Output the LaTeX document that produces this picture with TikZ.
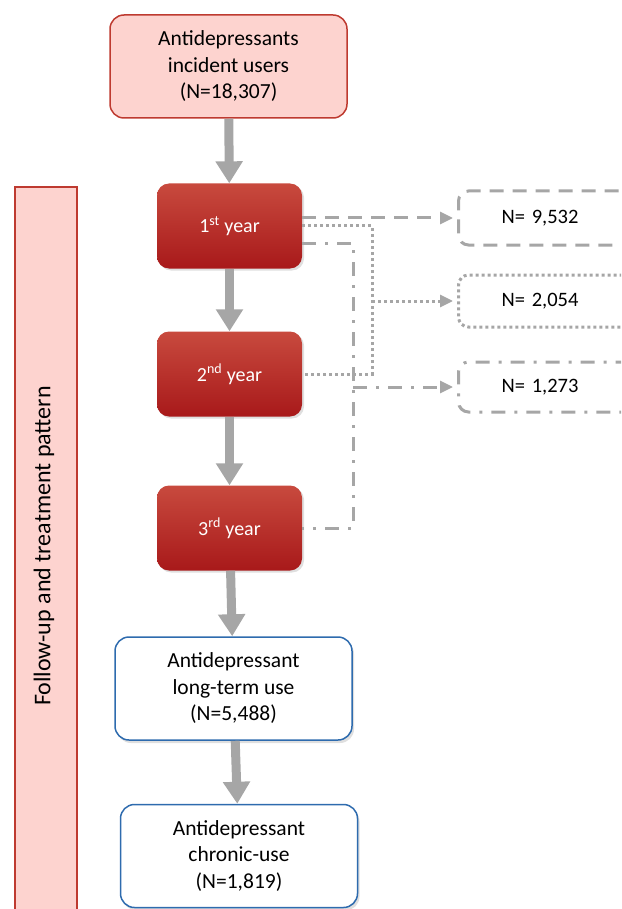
\documentclass[tikz,border=0pt]{standalone}
\usepackage{fontspec}
\setmainfont{Carlito}
\usetikzlibrary{arrows.meta,shadows}

\definecolor{pinkfill}{HTML}{FDD3CF}
\definecolor{redline}{HTML}{BE3A30}
\definecolor{yeartop}{HTML}{C84A3E}
\definecolor{yearbot}{HTML}{A8191A}
\definecolor{blueline}{HTML}{2E6BAE}
\definecolor{linkgray}{HTML}{A6A6A6}

\tikzset{
  startbox/.style={draw=redline, line width=1.5pt, fill=pinkfill, rounded corners=14pt,
    minimum width=237pt, minimum height=103pt, align=center,
    font=\fontsize{21.5}{26.5}\selectfont},
  yearbox/.style={rounded corners=12pt, top color=yeartop, bottom color=yearbot,
    minimum width=145pt, minimum height=85pt, text=white,
    font=\fontsize{20}{22}\selectfont,
    drop shadow={opacity=0.25, shadow xshift=2pt, shadow yshift=-2pt}},
  usebox/.style={draw=blueline, line width=1.5pt, fill=white, rounded corners=14pt,
    minimum width=237pt, minimum height=103pt, align=center,
    font=\fontsize{21.5}{26.5}\selectfont,
    drop shadow={opacity=0.25, shadow xshift=2pt, shadow yshift=-3pt}},
  outbox/.style={draw=linkgray, line width=3pt, rounded corners=10pt, anchor=west,
    text width=130pt, align=left, inner xsep=43pt,
    font=\fontsize{20.5}{22}\selectfont},
  sidebox/.style={draw=redline, line width=1.5pt, fill=pinkfill},
  flow/.style={draw=linkgray, line width=9pt, -{Triangle[width=26pt,length=22pt]}},
  link/.style={draw=linkgray, line width=3pt},
  dashlink/.style={link, dash pattern=on 14pt off 9pt},
  dotlink/.style={link, dash pattern=on 3pt off 3pt},
  dashdotlink/.style={link, dash pattern=on 14pt off 9pt on 3pt off 9pt},
  tip/.style={-{Triangle[width=12pt,length=13pt]}, shorten >=4pt}
}

\begin{document}
\begin{tikzpicture}[x=1pt,y=-1pt]
    \useasboundingbox (0,0) rectangle (621,909);
    \clip (0,0) rectangle (621,909);

    % Side band
    \draw[sidebox] (15,187) rectangle (77,940);
    \node[rotate=90, font=\fontsize{24}{26}\selectfont] (pattern) at (44,546) {Follow-up and treatment pattern};

    % Main column
    \node[startbox] (incident) at (228.5,66.5) {Antidepressants\\incident users\\(N=18,307)};
    \node[yearbox] (year1) at (229.5,226) {1\textsuperscript{st} year};
    \node[yearbox] (year2) at (229.5,374) {2\textsuperscript{nd} year};
    \node[yearbox] (year3) at (229.5,528) {3\textsuperscript{rd} year};
    \node[usebox] (longterm) at (233.5,688.5) {Antidepressant\\long-term use\\(N=5,488)};
    \node[usebox] (chronic) at (239,856) {Antidepressant\\chronic-use\\(N=1,819)};

    % Down arrows
    \draw[flow] (incident) -- (year1);
    \draw[flow] (year1) -- (year2);
    \draw[flow] (year2) -- (year3);
    \draw[flow] (year3) -- (longterm);
    \draw[flow] (longterm) -- (chronic);

    % Boxes on the right
    \node[outbox, dashlink, minimum height=54pt] (out1) at (457,218) {N= 9,532};
    \node[outbox, dotlink, minimum height=52pt] (out2) at (457,301) {N= 2,054};
    \node[outbox, dashdotlink, minimum height=50pt] (out3) at (457,387) {N= 1,273};

    % Joins
    \coordinate (dotjoin) at (372,374);
    \coordinate (dashjoin) at (353,528);

    % Links to the right
    \draw[dashlink, tip] (year1.east |- out1.west) -- (out1.west);
    \draw[dotlink] (year1.east) -| (dotjoin) -- (year2.east);
    \draw[dotlink, tip] (dotjoin |- out2.west) -- (out2.west);
    \draw[dashdotlink] ([yshift=-17pt]year1.east) -| (dashjoin) -- (year3.east);
    \draw[dashdotlink, tip] (dashjoin |- out3.west) -- (out3.west);
\end{tikzpicture}
\end{document}
